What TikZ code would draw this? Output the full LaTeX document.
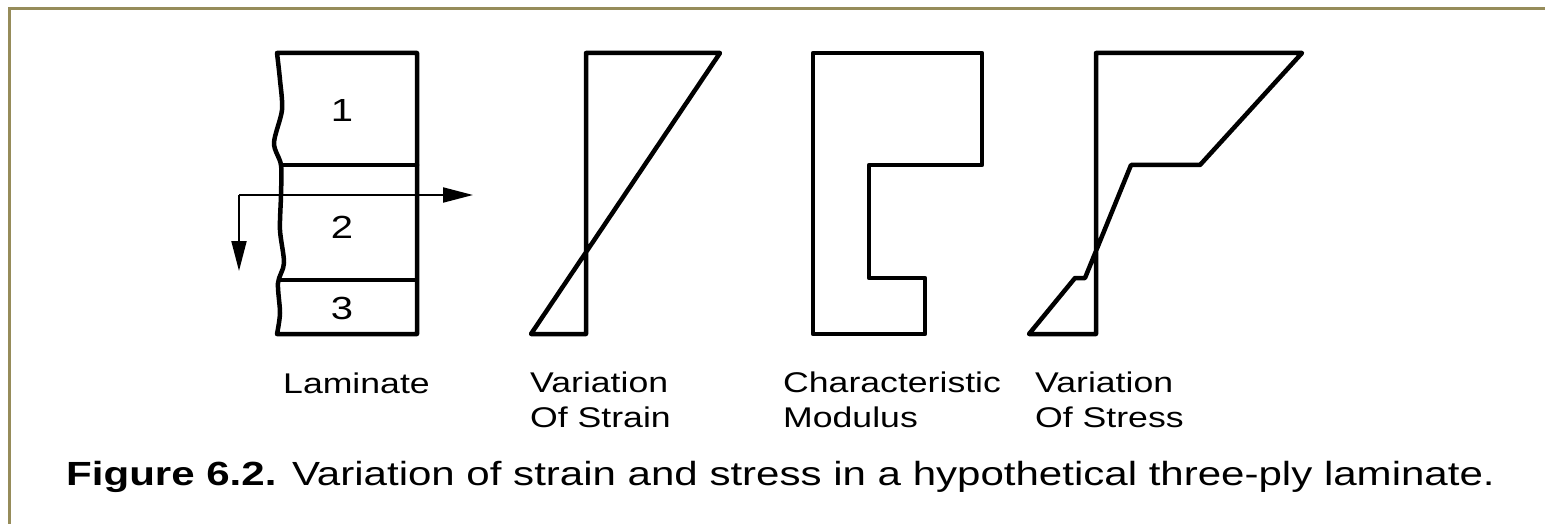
\documentclass[tikz,border=0pt]{standalone}
\usepackage{fontspec}
\setmainfont{Liberation Sans}
\newfontfamily\lblfont[FakeStretch=1.25]{Liberation Sans}
\newfontfamily\capfont[FakeStretch=1.255]{Liberation Sans}
\usetikzlibrary{arrows.meta}
\definecolor{frameol}{RGB}{150,140,90}
\begin{document}
\begin{tikzpicture}[x=1pt,y=-1pt,
  outline/.style={line width=4.5pt,line join=round,line cap=round},
  arr/.style={line width=2pt,-{Triangle[length=30pt,width=15pt]}},
  lbl/.style={anchor=base west,inner sep=0pt,align=left,font=\lblfont\fontsize{28.5}{35}\selectfont},
  digit/.style={anchor=center,inner sep=0pt,font=\lblfont\fontsize{32}{32}\selectfont},
  captext/.style={anchor=base west,inner sep=0pt,font=\capfont\fontsize{33.5}{40}\selectfont}]
\useasboundingbox (0,0) rectangle (1545,524);
\fill[white] (0,0) rectangle (1545,524);
% frame (top and left only)
\draw[frameol,line width=3pt] (9.5,524) -- (9.5,8.5) -- (1545,8.5);
% ---- Laminate ----
\draw[outline] (417,334) -- (417,53) -- (277,53)
  -- plot[smooth] coordinates {(277,53) (280,80) (282,110) (274,143) (281,165) (281,195) (280,230) (284,263) (278,283) (280,313) (277,334)}
  -- cycle;
\draw[outline] (281,165) -- (417,165);
\draw[line width=3.5pt] (279,280) -- (417,280);
\node[digit] (n1) at (342,110) {1};
\node[digit] (n2) at (342,227) {2};
\node[digit] (n3) at (342,308) {3};
\coordinate (o) at (239,195);
\coordinate (xe) at (473,195);
\coordinate (ye) at (239,271);
\draw[arr] (o) -- (xe);
\draw[arr] (o) -- (ye);
% ---- Strain ----
\draw[outline] (586,53) -- (720,53) -- (531,334) -- (586,334) -- cycle;
% ---- Modulus ----
\draw[outline] (813,53) -- (982,53) -- (982,165) -- (869,165) -- (869,278) -- (925,278) -- (925,334) -- (813,334) -- cycle;
% ---- Stress ----
\draw[outline] (1096,53) -- (1302,53) -- (1200,165) -- (1131,165) -- (1085,278) -- (1075,278) -- (1029,334) -- (1096,334) -- cycle;
% labels
\node[lbl] (lam) at (283,393) {Laminate};
\node[lbl] (vs) at (530,427) {Variation\\Of Strain};
\node[lbl] (cm) at (783,427) {Characteristic\\Modulus};
\node[lbl] (vst) at (1035,427) {Variation\\Of Stress};
\node[captext] (caption) at (66,485) {\textbf{Figure 6.2.} Variation of strain and stress in a hypothetical three-ply laminate.};
\end{tikzpicture}
\end{document}
